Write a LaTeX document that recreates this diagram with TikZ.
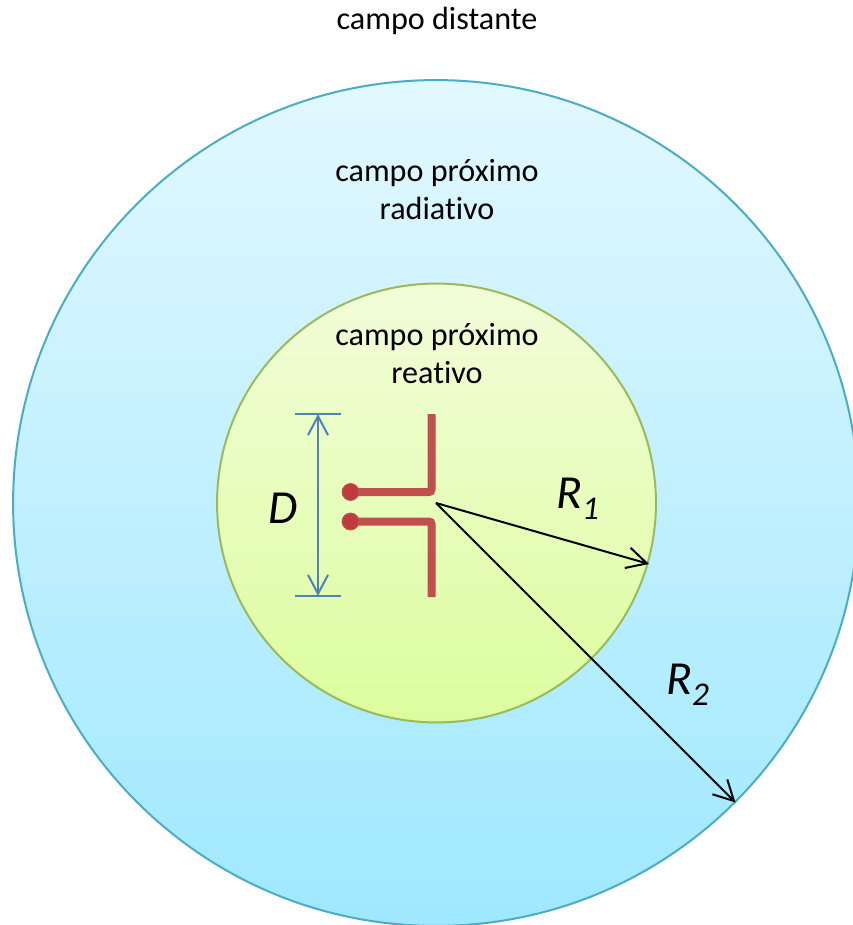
\documentclass[tikz,border=0pt]{standalone}
\usepackage{fontspec}
\setmainfont{Carlito}[Ligatures=NoCommon]
\usepackage{xcolor}
\usetikzlibrary{arrows.meta}
\definecolor{outertop}{HTML}{E2F8FF}
\definecolor{outerbottom}{HTML}{9FE8FF}
\definecolor{outerline}{HTML}{4BACC6}
\definecolor{innertop}{HTML}{F2FDD9}
\definecolor{innerbottom}{HTML}{DCFD9E}
\definecolor{innerline}{HTML}{9BBB59}
\definecolor{dipolered}{HTML}{C0504D}
\definecolor{dotred}{HTML}{BE3A3C}
\definecolor{sizeblue}{HTML}{4F81BD}
\newcommand{\radiusname}[1]{R\textsubscript{\raisebox{-0.3ex}{#1}}}
\tikzset{
  regionlabel/.style={font=\fontsize{18.3}{21.6}\selectfont,align=center},
  symbollabel/.style={font=\fontsize{27}{30}\selectfont\itshape},
  fieldcircle/.style={circle,inner sep=0pt,line width=0.04cm},
  sizearrow/.style={{Straight Barb[length=0.38cm,width=0.4cm]}-{Straight Barb[length=0.38cm,width=0.4cm]},draw=sizeblue,line width=0.04cm},
  sizebar/.style={draw=sizeblue,line width=0.04cm},
  radiusarrow/.style={-{Straight Barb[length=0.4cm,width=0.42cm]},line width=0.04cm},
  dipolearm/.style={draw=dipolered,line width=0.16cm,rounded corners=0.05cm},
  feeddot/.style={circle,fill=dotred,draw=dipolered,line width=0.02cm,minimum size=0.33cm,inner sep=0pt}
}
\begin{document}
\begin{tikzpicture}[x=0.02cm,y=-0.02cm]
  \useasboundingbox (0,0) rectangle (852,925);
  \node[fieldcircle,draw=outerline,top color=outertop,bottom color=outerbottom,minimum size=16.92cm] (outer) at (436,503) {};
  \node[fieldcircle,draw=innerline,top color=innertop,bottom color=innerbottom,minimum size=8.78cm] (inner) at (436.5,503) {};
  \node[regionlabel] (far) at (437,21) {campo distante};
  \node[regionlabel] (radiative) at (437,190) {campo próximo\\radiativo};
  \node[regionlabel] (reactive) at (437,354) {campo próximo\\reativo};
  \coordinate (bartop) at (318,414);
  \coordinate (barbottom) at (318,596);
  \draw[sizebar] (295,414)--(341,414);
  \draw[sizebar] (295,596)--(341,596);
  \draw[sizearrow] (bartop)--(barbottom);
  \node[symbollabel] (size) at (283,508) {D};
  \node[feeddot] (feedtop) at (350.5,492) {};
  \node[feeddot] (feedbottom) at (350.5,521.5) {};
  \draw[dipolearm] (feedtop.center)--(431.5,492)--(431.5,414);
  \draw[dipolearm] (feedbottom.center)--(431.5,521.5)--(431.5,597);
  \node[feeddot] at (feedtop) {};
  \node[feeddot] at (feedbottom) {};
  \coordinate (centre) at (436,503);
  \coordinate (innerend) at (649,564);
  \coordinate (outerend) at (735.5,802.5);
  \draw[radiusarrow] (centre)--(innerend);
  \draw[radiusarrow] (centre)--(outerend);
  \node[symbollabel] (radiusone) at (578,499) {\radiusname{1}};
  \node[symbollabel] (radiustwo) at (688,685) {\radiusname{2}};
\end{tikzpicture}
\end{document}
